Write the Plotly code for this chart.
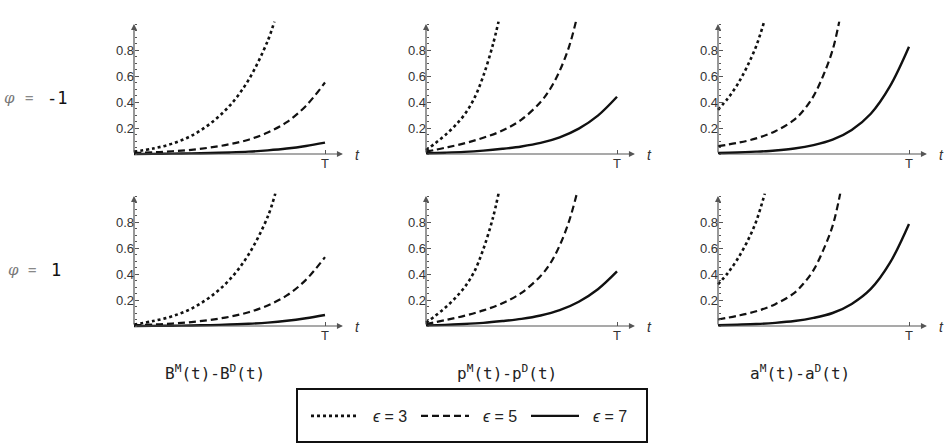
import plotly.graph_objects as go

# ---------------- data ----------------
t_grid = [0, 0.1, 0.2, 0.3, 0.4, 0.5, 0.6, 0.7, 0.8, 0.9, 1.0]

# row 1 : phi = -1
B_m1_e3_t = [0, 0.1, 0.2, 0.3, 0.4, 0.5, 0.6, 0.7, 0.735]
B_m1_e3 = [0.018, 0.042, 0.08, 0.14, 0.235, 0.37, 0.57, 0.87, 1.02]
B_m1_e5 = [0.008, 0.013, 0.021, 0.032, 0.05, 0.075, 0.11, 0.165, 0.245, 0.37, 0.55]
B_m1_e7 = [0.0, 0.001, 0.003, 0.005, 0.008, 0.012, 0.018, 0.028, 0.042, 0.062, 0.088]

p_m1_e3_t = [0, 0.05, 0.1, 0.15, 0.2, 0.25, 0.3, 0.35, 0.38]
p_m1_e3 = [0.03, 0.085, 0.145, 0.215, 0.3, 0.42, 0.6, 0.84, 1.02]
p_m1_e5_t = [0, 0.1, 0.2, 0.3, 0.4, 0.5, 0.6, 0.65, 0.7, 0.75, 0.785]
p_m1_e5 = [0.018, 0.048, 0.082, 0.125, 0.18, 0.265, 0.4, 0.5, 0.64, 0.83, 1.02]
p_m1_e7 = [0.006, 0.01, 0.016, 0.026, 0.04, 0.058, 0.085, 0.128, 0.195, 0.295, 0.44]

a_m1_e3_t = [0, 0.05, 0.1, 0.15, 0.2, 0.242]
a_m1_e3 = [0.34, 0.425, 0.53, 0.665, 0.83, 1.02]
a_m1_e5_t = [0, 0.1, 0.2, 0.3, 0.4, 0.45, 0.5, 0.55, 0.6, 0.635]
a_m1_e5 = [0.06, 0.085, 0.12, 0.175, 0.265, 0.34, 0.445, 0.6, 0.8, 1.02]
a_m1_e7 = [0.008, 0.012, 0.018, 0.027, 0.042, 0.068, 0.11, 0.185, 0.31, 0.52, 0.825]

# row 2 : phi = 1
B_p1_e3_t = [0, 0.1, 0.2, 0.3, 0.4, 0.5, 0.6, 0.7, 0.74]
B_p1_e3 = [0.012, 0.038, 0.075, 0.133, 0.225, 0.355, 0.55, 0.84, 1.02]
B_p1_e5 = [0.006, 0.011, 0.019, 0.03, 0.047, 0.071, 0.106, 0.158, 0.235, 0.355, 0.53]
B_p1_e7 = [0.0, 0.001, 0.002, 0.004, 0.007, 0.011, 0.017, 0.026, 0.04, 0.06, 0.085]

p_p1_e3_t = [0, 0.05, 0.1, 0.15, 0.2, 0.25, 0.3, 0.35, 0.38]
p_p1_e3 = [0.025, 0.08, 0.14, 0.21, 0.295, 0.41, 0.59, 0.83, 1.02]
p_p1_e5_t = [0, 0.1, 0.2, 0.3, 0.4, 0.5, 0.6, 0.65, 0.7, 0.75, 0.79]
p_p1_e5 = [0.015, 0.045, 0.078, 0.12, 0.175, 0.255, 0.385, 0.48, 0.62, 0.81, 1.02]
p_p1_e7 = [0.005, 0.009, 0.015, 0.024, 0.038, 0.055, 0.081, 0.122, 0.187, 0.283, 0.42]

a_p1_e3_t = [0, 0.05, 0.1, 0.15, 0.2, 0.245]
a_p1_e3 = [0.32, 0.405, 0.51, 0.64, 0.805, 1.02]
a_p1_e5_t = [0, 0.1, 0.2, 0.3, 0.4, 0.45, 0.5, 0.55, 0.6, 0.64]
a_p1_e5 = [0.05, 0.078, 0.113, 0.168, 0.255, 0.33, 0.43, 0.58, 0.77, 1.02]
a_p1_e7 = [0.006, 0.01, 0.015, 0.024, 0.038, 0.062, 0.1, 0.17, 0.285, 0.485, 0.785]

y_tick_vals = [0.2, 0.4, 0.6, 0.8]
y_tick_text = ["0.2", "0.4", "0.6", "0.8"]
x_tick_vals = [1]
x_tick_text = ["T"]

eps_values = [3, 5, 7]
row_labels = ["-1", "1"]
col_labels = ["B<sup>M</sup>(t)-B<sup>D</sup>(t)",
              "p<sup>M</sup>(t)-p<sup>D</sup>(t)",
              "a<sup>M</sup>(t)-a<sup>D</sup>(t)"]

panels = [
    [(B_m1_e3_t, B_m1_e3), (t_grid, B_m1_e5), (t_grid, B_m1_e7)],
    [(p_m1_e3_t, p_m1_e3), (p_m1_e5_t, p_m1_e5), (t_grid, p_m1_e7)],
    [(a_m1_e3_t, a_m1_e3), (a_m1_e5_t, a_m1_e5), (t_grid, a_m1_e7)],
    [(B_p1_e3_t, B_p1_e3), (t_grid, B_p1_e5), (t_grid, B_p1_e7)],
    [(p_p1_e3_t, p_p1_e3), (p_p1_e5_t, p_p1_e5), (t_grid, p_p1_e7)],
    [(a_p1_e3_t, a_p1_e3), (a_p1_e5_t, a_p1_e5), (t_grid, a_p1_e7)],
]

# ---------------- layout geometry ----------------
W, H = 944, 444
def px(x):
    return x / W
def py(y):
    return 1 - y / H

col_x0 = [134, 426, 718]     # pixel of t = 0
row_base = [154, 326]        # pixel of value 0
XS, YS = 191, 130            # pixels per unit
XR = [-0.03, 1.12]
YR = [-0.03, 1.02]

line_styles = [dict(dash="3px,3px", width=2.6),
               dict(dash="7px,4px", width=2.2),
               dict(dash="solid", width=2.4)]
INK = "#111111"
AX = "#555555"
TICKFONT = dict(family="Liberation Sans", size=13, color="#333333")

fig = go.Figure()
layout = dict(width=W, height=H, margin=dict(l=0, r=0, t=0, b=0),
              paper_bgcolor="white", plot_bgcolor="rgba(0,0,0,0)", autosize=False,
              hovermode=False)
annotations = []

def label(x, y, text, font, xanchor="center"):
    return dict(x=x, y=y, xref="paper", yref="paper", text=text, showarrow=False,
                xanchor=xanchor, yanchor="middle", font=font)

for k, series in enumerate(panels):
    r, c = divmod(k, 3)
    n = k + 1
    xa = "x" if n == 1 else f"x{n}"
    ya = "y" if n == 1 else f"y{n}"
    x0 = col_x0[c]
    base = row_base[r]
    layout["xaxis" if n == 1 else f"xaxis{n}"] = dict(
        domain=[px(x0 + XR[0] * XS), px(x0 + XR[1] * XS)], range=XR,
        anchor="free", position=py(base), showgrid=False, zeroline=False,
        showline=False, tickvals=x_tick_vals, ticktext=x_tick_text,
        ticks="inside", ticklen=4, tickwidth=1, tickcolor=AX,
        tickfont=dict(TICKFONT, size=13), fixedrange=True)
    layout["yaxis" if n == 1 else f"yaxis{n}"] = dict(
        domain=[py(base - YR[0] * YS), py(base - YR[1] * YS)], range=YR,
        anchor="free", position=px(x0), showgrid=False, zeroline=False,
        showline=False, tickvals=y_tick_vals, ticktext=y_tick_text,
        ticks="inside", ticklen=4, tickwidth=1, tickcolor=AX,
        tickfont=TICKFONT,
        minor=dict(tick0=0, dtick=0.05, ticks="inside", ticklen=2, tickcolor=AX, showgrid=False),
        fixedrange=True)

    for j, (tx, vy) in enumerate(series):
        fig.add_trace(go.Scatter(
            x=tx, y=vy, mode="lines", xaxis=xa, yaxis=ya,
            line=dict(color=INK, shape="spline", smoothing=1.0, **line_styles[j]),
            name=f"\u00a0\u00a0<i>\u03f5</i> = {eps_values[j]}",
            showlegend=(k == 0), hoverinfo="skip"))

    # axis arrows
    annotations.append(dict(x=1.094, y=0, ax=0, ay=0, xref=xa, yref=ya, axref=xa, ayref=ya,
                            text="", showarrow=True, arrowhead=2, arrowsize=1,
                            arrowwidth=1.2, arrowcolor=AX, standoff=0, startstandoff=0))
    annotations.append(dict(x=0, y=1.0, ax=0, ay=0, xref=xa, yref=ya, axref=xa, ayref=ya,
                            text="", showarrow=True, arrowhead=2, arrowsize=1,
                            arrowwidth=1.2, arrowcolor=AX, standoff=0, startstandoff=0))
    # "t" axis label
    annotations.append(label(px(x0 + 223), py(base + 1), "<i>t</i>",
                             dict(family="Liberation Sans", size=14, color="#333")))

# row labels
for r, lab in enumerate(row_labels):
    yb = [98, 270][r]
    annotations.append(label(px(9 if r == 0 else 13), py(yb), "<i>\u03c6</i>",
                             dict(family="DejaVu Serif", size=15, color="#777")))
    annotations.append(label(px(29 if r == 0 else 32), py(yb), "=",
                             dict(family="DejaVu Sans Mono", size=14, color="#888")))
    annotations.append(label(px(45 if r == 0 else 49), py(yb), lab,
                             dict(family="DejaVu Sans Mono", size=17, color="#111"),
                             xanchor="left"))

# column labels
for c, lab in enumerate(col_labels):
    annotations.append(label(px([215, 507, 800][c]), py(372), lab,
                             dict(family="DejaVu Sans Mono", size=16, color="#222")))

layout["annotations"] = annotations
layout["shapes"] = [dict(type="rect", xref="paper", yref="paper",
                         x0=px(297), x1=px(647), y0=py(442), y1=py(389),
                         line=dict(color="#111", width=2), fillcolor="rgba(0,0,0,0)")]
layout["legend"] = dict(orientation="h", x=px(306), y=py(416), xanchor="left", yanchor="middle",
                        bgcolor="rgba(0,0,0,0)", borderwidth=0, entrywidth=47,
                        entrywidthmode="pixels", itemwidth=48,
                        font=dict(family="Liberation Sans", size=16, color="#222"))
layout["showlegend"] = True
fig.update_layout(**layout)
fig.write_html("out.html", config={"displayModeBar": False})
